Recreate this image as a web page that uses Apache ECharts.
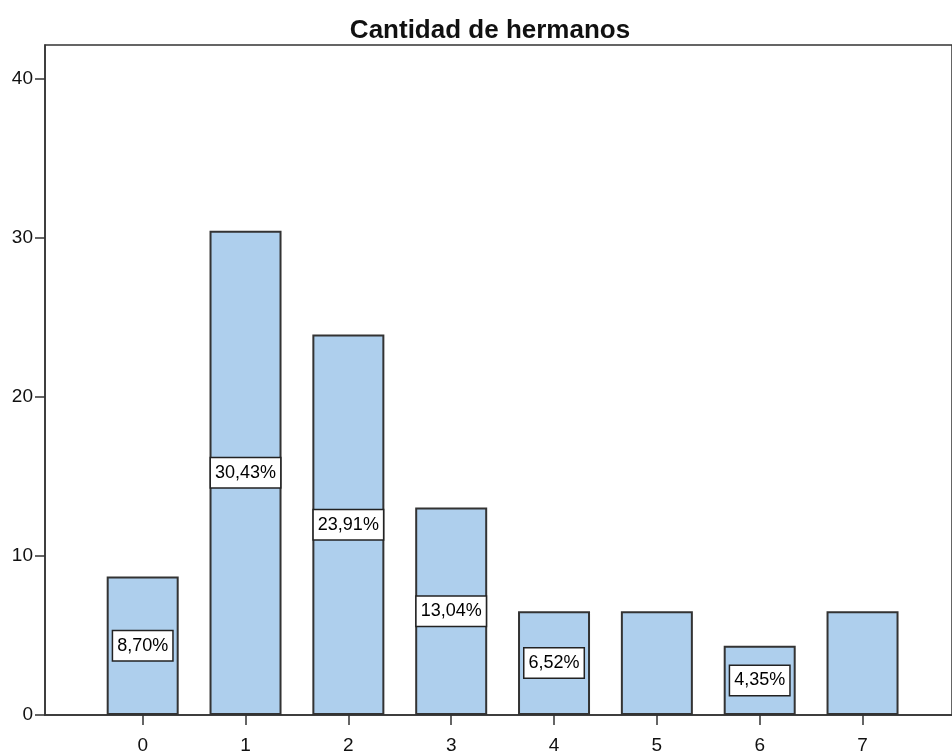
<!DOCTYPE html>
<html>
<head>
<meta charset="utf-8">
<script src="https://cdn.jsdelivr.net/npm/echarts@6/dist/echarts.min.js"></script>
<style>
  html, body { margin: 0; padding: 0; background: #fff; }
  #chart { width: 952px; height: 755px; }
</style>
</head>
<body>
<div id="chart"></div>
<script>
// cantidad de hermanos -> porcentaje
var categories = [0, 1, 2, 3, 4, 5, 6, 7];
var percents = [8.70, 30.43, 23.91, 13.04, 6.52, 6.52, 4.35, 6.52];
var showLabel = [true, true, true, true, true, false, true, false];
var yTicks = [0, 10, 20, 30, 40];

var myChart = echarts.init(document.getElementById('chart'));
myChart.setOption({
  animation: false,
  textStyle: { fontFamily: 'Liberation Sans' },
  title: {
    text: 'Cantidad de hermanos',
    left: 485,
    top: 13,
    textAlign: 'center',
    textStyle: { fontSize: 26, fontWeight: 'bold', color: '#111', fontFamily: 'Liberation Sans' }
  },
  grid: {
    left: 45,
    top: 45,
    bottom: 38,
    right: 0,
    show: true,
    borderColor: '#333',
    borderWidth: 1.5
  },
  xAxis: {
    type: 'value',
    min: -0.95,
    max: 7.87,
    splitLine: { show: false },
    axisLine: { onZero: false, lineStyle: { color: '#333', width: 1.5 } },
    axisTick: { customValues: categories, length: 10, lineStyle: { color: '#333', width: 1.5 } },
    axisLabel: { customValues: categories, margin: 21, fontSize: 19, color: '#111' }
  },
  yAxis: {
    type: 'value',
    min: 0,
    max: 42.1,
    splitLine: { show: false },
    axisLine: { show: true, onZero: false, lineStyle: { color: '#333', width: 1.5 } },
    axisTick: { show: true, customValues: yTicks, length: 10, lineStyle: { color: '#333', width: 1.5 } },
    axisLabel: { customValues: yTicks, margin: 12, fontSize: 19, color: '#111' }
  },
  series: [{
    type: 'bar',
    barWidth: 72,
    data: categories.map(function (c, i) {
      return { value: [c, percents[i]], label: { show: showLabel[i] } };
    }),
    itemStyle: { color: '#aecfed', borderColor: '#333', borderWidth: 2 },
    label: {
      position: 'inside',
      color: '#000',
      fontSize: 18,
      lineHeight: 21,
      backgroundColor: '#fff',
      borderColor: '#222',
      borderWidth: 1.5,
      padding: [4, 4],
      formatter: function (p) {
        return p.value[1].toFixed(2).replace('.', ',') + '%';
      }
    }
  }]
});
</script>
</body>
</html>
